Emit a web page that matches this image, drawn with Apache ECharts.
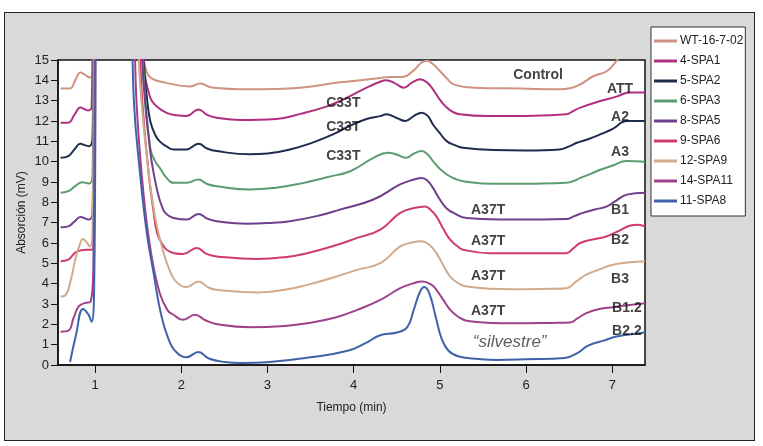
<!DOCTYPE html>
<html>
<head>
<meta charset="utf-8">
<script src="https://cdn.jsdelivr.net/npm/echarts@6/dist/echarts.min.js"></script>
<style>
  html,body{margin:0;padding:0;background:#fff;}
  #frame{position:absolute;left:4px;top:12px;width:749px;height:427px;background:#d9d9d9;border:1.5px solid #222;}
  #chart{position:absolute;left:0;top:0;width:763px;height:446px;}
</style>
</head>
<body>
<div id="frame"></div>
<div id="chart"></div>
<script>
// ---- data (time in min, absorbance in mV) ----
const seriesNames = ['WT-16-7-02','4-SPA1','5-SPA2','6-SPA3','8-SPA5','9-SPA6','12-SPA9','14-SPA11','11-SPA8'];
const xTicks = [1,2,3,4,5,6,7];
const yTicks = [0,1,2,3,4,5,6,7,8,9,10,11,12,13,14,15];

const wt = [[0.6,13.6],[0.71,13.6],[0.77,14.0],[0.83,14.38],[0.88,14.28],[0.94,14.14],[0.97,14.3],[0.99,22],[1.52,22],[1.56,15.2],[1.6,14.4],[1.66,14.08],[1.8,13.9],[2.1,13.7],[2.22,13.84],[2.35,13.65],[2.79,13.56],[3.38,13.64],[3.84,13.9],[4.1,14.02],[4.31,14.12],[4.42,14.17],[4.57,14.17],[4.7,14.5],[4.78,14.85],[4.85,14.96],[4.92,14.8],[5.0,14.46],[5.08,14.1],[5.16,13.8],[5.39,13.64],[5.93,13.6],[6.39,13.56],[6.52,13.62],[6.63,13.8],[6.78,14.2],[6.94,14.46],[7.05,14.96],[7.15,15.5],[7.38,16.5]];
const spa1 = [[0.6,11.92],[0.69,11.92],[0.76,12.3],[0.83,12.66],[0.88,12.58],[0.92,12.52],[0.96,12.7],[0.99,22],[1.5,22],[1.57,14.8],[1.64,13.15],[1.72,12.7],[1.83,12.4],[1.95,12.28],[2.06,12.24],[2.2,12.57],[2.3,12.3],[2.41,12.16],[2.69,12.05],[3.1,12.1],[3.38,12.35],[3.69,12.72],[3.9,13.1],[4.15,13.64],[4.3,13.92],[4.38,14.0],[4.48,13.85],[4.58,13.64],[4.68,13.9],[4.77,14.05],[4.85,13.9],[4.92,13.56],[5.0,13.05],[5.08,12.66],[5.15,12.45],[5.23,12.33],[5.54,12.24],[6.0,12.25],[6.47,12.33],[6.55,12.5],[6.63,12.66],[6.86,12.98],[7.05,13.2],[7.2,13.4],[7.38,13.4]];
const spa2 = [[0.6,10.19],[0.69,10.27],[0.76,10.6],[0.83,10.88],[0.89,10.8],[0.93,10.76],[0.97,11.2],[1.0,22],[1.5,22],[1.56,15],[1.6,13.2],[1.64,12.0],[1.7,11.3],[1.75,11.0],[1.83,10.75],[1.91,10.6],[2.06,10.6],[2.2,10.88],[2.3,10.65],[2.41,10.52],[2.8,10.36],[3.0,10.4],[3.26,10.6],[3.5,10.9],[3.76,11.34],[3.95,11.75],[4.15,12.1],[4.31,12.24],[4.38,12.33],[4.5,12.15],[4.6,12.0],[4.7,12.25],[4.79,12.41],[4.86,12.25],[4.92,11.83],[5.0,11.4],[5.08,11.01],[5.18,10.8],[5.27,10.68],[5.62,10.57],[6.0,10.55],[6.39,10.6],[6.5,10.75],[6.59,10.93],[6.72,11.1],[6.86,11.34],[7.0,11.6],[7.17,12.0],[7.38,12.0]];
const spa3 = [[0.6,8.47],[0.69,8.55],[0.77,8.8],[0.85,8.99],[0.9,8.95],[0.93,8.93],[0.97,9.3],[1.0,22],[1.48,22],[1.56,14.5],[1.64,10.68],[1.7,10.0],[1.75,9.7],[1.83,9.2],[1.91,8.96],[2.06,8.96],[2.2,9.12],[2.3,8.9],[2.41,8.79],[2.8,8.63],[3.1,8.72],[3.38,8.92],[3.7,9.25],[3.96,9.53],[4.23,10.19],[4.4,10.44],[4.5,10.35],[4.61,10.19],[4.7,10.4],[4.79,10.52],[4.86,10.35],[4.92,10.03],[5.0,9.65],[5.08,9.37],[5.18,9.15],[5.27,9.04],[5.62,8.91],[6.1,8.92],[6.47,8.96],[6.55,9.05],[6.63,9.2],[6.75,9.4],[6.86,9.6],[7.0,9.8],[7.17,10.03],[7.38,10.0]];
const spa5 = [[0.6,6.77],[0.69,6.82],[0.76,7.05],[0.83,7.28],[0.9,7.18],[0.93,7.15],[0.97,7.5],[1.01,22],[1.46,22],[1.56,14],[1.64,10.5],[1.72,8.6],[1.79,7.64],[1.85,7.35],[1.91,7.23],[2.06,7.15],[2.2,7.43],[2.3,7.2],[2.41,7.07],[2.76,6.95],[3.0,6.98],[3.26,7.07],[3.6,7.35],[3.84,7.64],[4.23,8.14],[4.54,8.88],[4.7,9.12],[4.79,9.2],[4.86,9.05],[4.92,8.71],[5.0,8.14],[5.08,7.7],[5.16,7.48],[5.31,7.23],[5.85,7.15],[6.47,7.18],[6.56,7.32],[6.66,7.48],[6.8,7.65],[6.94,7.8],[7.05,8.1],[7.17,8.38],[7.38,8.47]];
const spa6 = [[0.6,5.1],[0.69,5.18],[0.74,5.4],[0.79,5.59],[0.9,5.67],[0.96,5.67],[0.99,7],[1.02,22],[1.44,22],[1.54,13.5],[1.62,9.5],[1.68,7.5],[1.72,6.49],[1.78,5.95],[1.83,5.67],[1.92,5.5],[2.02,5.46],[2.18,5.75],[2.3,5.45],[2.41,5.34],[2.88,5.21],[3.2,5.3],[3.46,5.5],[3.8,5.9],[4.04,6.25],[4.31,6.66],[4.54,7.48],[4.7,7.72],[4.83,7.8],[4.9,7.6],[4.96,7.31],[5.04,6.7],[5.12,6.16],[5.2,5.85],[5.27,5.67],[5.58,5.5],[6.2,5.5],[6.47,5.5],[6.55,5.75],[6.63,6.0],[6.8,6.2],[6.94,6.33],[7.1,6.65],[7.2,6.85],[7.3,6.9],[7.38,6.82]];
const spa9 = [[0.6,3.37],[0.66,3.45],[0.72,4.2],[0.77,5.18],[0.82,5.9],[0.86,6.2],[0.9,6.05],[0.94,5.83],[0.97,6.5],[1.01,22],[1.42,22],[1.52,14],[1.62,9.5],[1.7,7.2],[1.79,5.6],[1.87,4.6],[1.95,4.05],[2.06,3.83],[2.2,4.11],[2.32,3.8],[2.41,3.7],[2.88,3.57],[3.2,3.7],[3.46,3.94],[3.8,4.35],[4.04,4.68],[4.31,5.01],[4.54,5.83],[4.68,6.02],[4.79,6.08],[4.88,5.9],[4.96,5.5],[5.04,4.9],[5.12,4.35],[5.22,4.0],[5.31,3.86],[5.6,3.75],[5.85,3.73],[6.3,3.75],[6.47,3.78],[6.58,4.1],[6.7,4.44],[6.85,4.7],[7.01,4.93],[7.2,5.05],[7.38,5.1]];
const spa11 = [[0.6,1.64],[0.69,1.69],[0.75,2.3],[0.81,2.88],[0.88,3.04],[0.95,3.12],[0.98,5],[1.02,22],[1.4,22],[1.48,13],[1.56,8.5],[1.65,5.5],[1.75,3.54],[1.84,2.7],[1.91,2.47],[2.02,2.22],[2.16,2.47],[2.28,2.2],[2.4,2.02],[2.8,1.86],[3.2,1.92],[3.46,2.05],[3.8,2.35],[4.04,2.71],[4.31,3.2],[4.54,3.78],[4.68,4.0],[4.8,4.11],[4.9,3.95],[4.96,3.7],[5.04,3.2],[5.12,2.71],[5.22,2.35],[5.31,2.18],[5.6,2.07],[5.85,2.05],[6.3,2.07],[6.51,2.09],[6.6,2.3],[6.7,2.55],[6.85,2.75],[7.01,2.84],[7.2,2.95],[7.38,3.04]];
const spa8 = [[0.71,0.15],[0.78,1.5],[0.86,2.76],[0.92,2.5],[0.96,2.13],[0.99,4],[1.03,22],[1.38,22],[1.45,13],[1.52,9.5],[1.6,6.5],[1.68,4.5],[1.76,2.6],[1.85,1.3],[1.95,0.6],[2.06,0.38],[2.2,0.64],[2.32,0.32],[2.5,0.15],[2.7,0.1],[3.0,0.14],[3.5,0.38],[3.93,0.7],[4.15,1.1],[4.3,1.45],[4.5,1.6],[4.62,1.85],[4.7,2.75],[4.77,3.6],[4.82,3.83],[4.88,3.5],[4.95,2.4],[5.02,1.3],[5.1,0.7],[5.22,0.42],[5.45,0.3],[5.65,0.25],[6.0,0.28],[6.45,0.35],[6.6,0.6],[6.72,0.95],[6.9,1.2],[7.05,1.4],[7.2,1.5],[7.38,1.6]];
const seriesValues = [wt, spa1, spa2, spa3, spa5, spa6, spa9, spa11, spa8];

// annotation labels [x, y, text]
const annotBold = [[6.14,14.25,'Control'],[7.09,13.56,'ATT'],[7.09,12.18,'A2'],[7.09,10.45,'A3'],[7.09,7.6,'B1'],[7.09,6.16,'B2'],[7.09,4.24,'B3'],[7.17,2.81,'B1.2'],[7.17,1.68,'B2.2'],
  [3.88,12.87,'C33T'],[3.88,11.69,'C33T'],[3.88,10.26,'C33T'],
  [5.56,7.6,'A37T'],[5.56,6.07,'A37T'],[5.56,4.39,'A37T'],[5.56,2.66,'A37T']];
const annotItalic = [[5.81,1.13,'\u201Csilvestre\u201D']];

const colors = ['#cf9383','#b0307f','#1f2d4d','#5c9c72','#6e3f8c','#d03c6a','#d2ab8c','#a0428a','#3f62a8'];

const chart = echarts.init(document.getElementById('chart'), null, {renderer:'canvas'});
const FONT = 'Liberation Sans, Arial, sans-serif';

const series = seriesNames.map((n,i)=>({
  name:n, type:'line', data:seriesValues[i], smooth:0.45,
  showSymbol:false, symbol:'none', clip:true,
  lineStyle:{color:colors[i], width:2}, itemStyle:{color:colors[i]}, z:2
}));
series.push({
  type:'scatter', data:annotBold, symbolSize:0, silent:true, z:5,
  label:{show:true, position:'inside', formatter:p=>p.data[2], fontFamily:FONT, fontWeight:'bold', fontSize:14, color:'#111'}
});
series.push({
  type:'scatter', data:annotItalic, symbolSize:0, silent:true, z:5,
  label:{show:true, position:'inside', formatter:p=>p.data[2], fontFamily:FONT, fontStyle:'italic', fontSize:17, color:'#333'}
});

chart.setOption({
  backgroundColor:'transparent',
  animation:false,
  textStyle:{fontFamily:FONT},
  grid:{left:58, right:118, top:60, bottom:81, show:true, backgroundColor:'#fff', borderColor:'#111', borderWidth:1.5},
  legend:{
    data:seriesNames, orient:'vertical', left:651, top:27,
    backgroundColor:'#fff', borderColor:'#333', borderWidth:1, borderRadius:0,
    padding:[8,2,9,3], itemGap:8, itemWidth:23, itemHeight:3, icon:'rect',
    textStyle:{fontSize:12, color:'#222', fontFamily:FONT, padding:[0,0,0,-2]}
  },
  xAxis:{
    type:'value', min:0.57, max:7.38,
    name:'Tiempo (min)', nameLocation:'middle', nameGap:37,
    nameTextStyle:{fontSize:12, color:'#222'},
    axisLine:{lineStyle:{color:'#111', width:1.5}},
    axisTick:{show:true, length:8, inside:false, customValues:xTicks, lineStyle:{color:'#111', width:1}},
    axisLabel:{customValues:xTicks, fontSize:13, color:'#222', margin:14},
    splitLine:{show:false}
  },
  yAxis:{
    type:'value', min:0, max:15, interval:1,
    name:'Absorción (mV)', nameLocation:'middle', nameGap:30, nameRotate:90, nameMoveOverlap:false,
    nameTextStyle:{fontSize:12, color:'#222'},
    axisLine:{show:true, lineStyle:{color:'#111', width:1.5}},
    axisTick:{show:true, length:7, lineStyle:{color:'#111', width:1}},
    axisLabel:{fontSize:13, color:'#222', margin:9, formatter:v=> yTicks.indexOf(v)>=0 ? String(v) : ''},
    splitLine:{show:false}
  },
  series:series
});
</script>
</body>
</html>
